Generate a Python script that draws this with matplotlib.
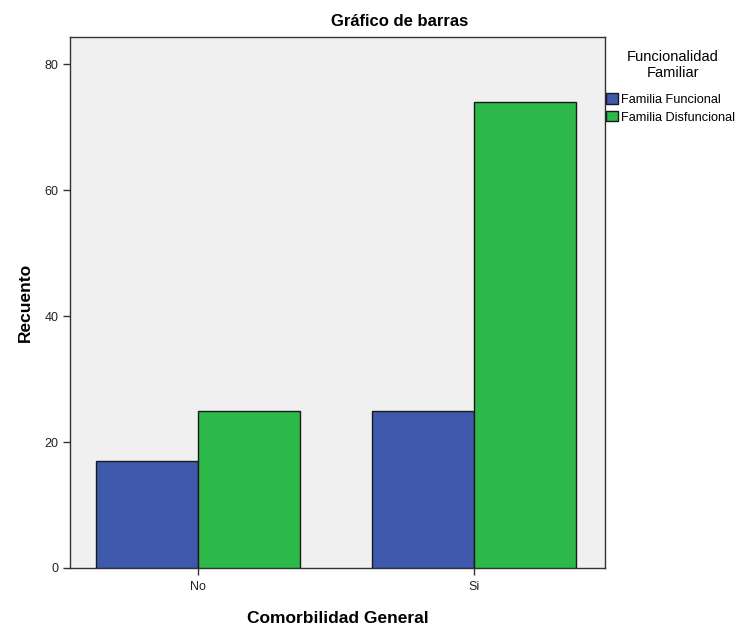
import matplotlib
matplotlib.use("Agg")
import matplotlib.pyplot as plt
import numpy as np
from matplotlib.patches import Patch

plt.rcParams['font.family'] = ['Liberation Sans', 'DejaVu Sans']

categories = ["No", "Si"]
series_names = ["Familia Funcional", "Familia Disfuncional"]
funcional = [17, 25]
disfuncional = [25, 74]
colors = ["#3E58AC", "#2DB84A"]
yticks = [0, 20, 40, 60, 80]

fig = plt.figure(figsize=(7.48, 6.30), dpi=100)
ax = fig.add_axes([70/748, 1-568/630, (605-70)/748, (568-37)/630])
ax.set_facecolor("#F0F0F0")

x = np.arange(len(categories))
w = 0.37
ax.bar(x - w/2, funcional, w, color=colors[0], edgecolor="#1a1a1a", linewidth=1.0, zorder=3)
ax.bar(x + w/2, disfuncional, w, color=colors[1], edgecolor="#1a1a1a", linewidth=1.0, zorder=3)

ax.set_xlim(-0.464, 1.475)
ax.set_ylim(0, 84.3)
ax.set_yticks(yticks)
ax.set_xticks(x)
ax.set_xticklabels(categories)
ax.tick_params(axis='both', labelsize=9, length=5, width=1, color="#333333", labelcolor="#222222")
ax.tick_params(axis='x', pad=4)
for s in ax.spines.values():
    s.set_color("#333333")
    s.set_linewidth(1.0)

ax.set_xlabel("Comorbilidad General", fontsize=12.5, fontweight='bold', labelpad=13)
ax.set_ylabel("Recuento", fontsize=12.5, fontweight='bold', labelpad=8)
fig.text(400/748, 1-22/630, "Gráfico de barras", ha='center', va='center', fontsize=12, fontweight='bold')

handles = [Patch(facecolor=colors[i], edgecolor="#1a1a1a", label=series_names[i]) for i in range(2)]
fig.text(673/748, 1-65/630, "Funcionalidad\nFamiliar", ha='center', va='center', fontsize=10.5, linespacing=1.1)
leg = fig.legend(handles=handles, loc='upper left', bbox_to_anchor=(606/748, 1-93/630),
                 frameon=False, fontsize=9.2, handlelength=0.9, handleheight=0.9,
                 handletextpad=0.25, labelspacing=0.4, borderaxespad=0, borderpad=0)

fig.savefig("out.png", dpi=100)
